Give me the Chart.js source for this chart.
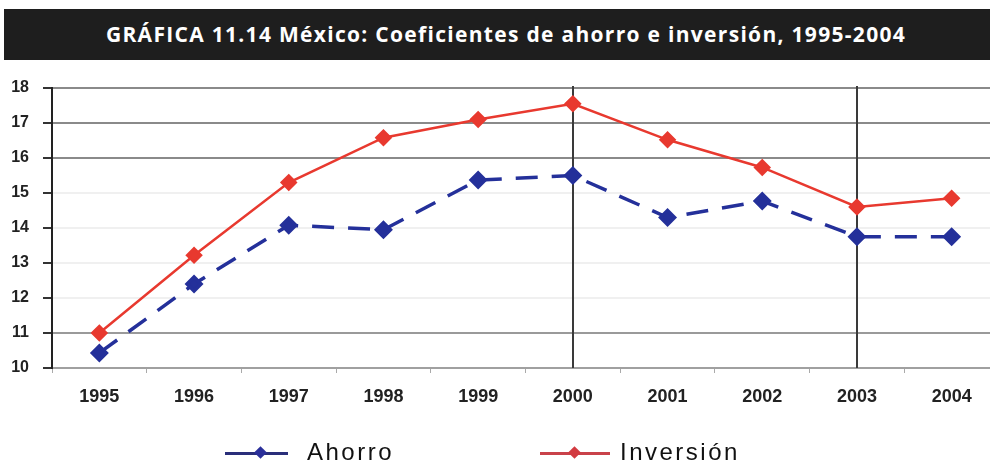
<!DOCTYPE html>
<html>
<head>
<meta charset="utf-8">
<script src="https://cdn.jsdelivr.net/npm/chart.js@4.4.1/dist/chart.umd.min.js"></script>
<style>
  html, body { margin: 0; padding: 0; width: 990px; height: 464px; overflow: hidden; background: #fff; }
  #title { position: absolute; left: 4px; top: 9px; width: 986px; height: 51px; background: #1e1e1e;
           color: #fff; font-family: "Open Sans", sans-serif; font-weight: 700; font-size: 21px;
           letter-spacing: 1.3px; line-height: 51px; text-align: center; box-sizing: border-box; padding-left: 18px; white-space: nowrap; }
  #wrap { position: absolute; left: 0; top: 0; width: 1000px; height: 464px; }
  #c { width: 1000px; height: 464px; display: block; }
  .leg { position: absolute; top: 440px; height: 24px; font-family: "Liberation Sans", Arial, sans-serif;
         font-size: 24px; letter-spacing: 2.5px; color: #111; line-height: 24px; }
  .ln { position: absolute; height: 3px; top: 452px; }
  .dm { position: absolute; width: 9px; height: 9px; transform: rotate(45deg); top: 448px; }
</style>
</head>
<body>
<div id="wrap"><canvas id="c" width="1000" height="464"></canvas></div>
<div id="title">GRÁFICA 11.14 México: Coeficientes de ahorro e inversión, 1995-2004</div>
<div class="ln" style="left:225px;width:63px;background:#2a2f7a"></div>
<div class="dm" style="left:256px;background:#2a2f9a"></div>
<div class="leg" style="left:307px">Ahorro</div>
<div class="ln" style="left:540px;width:70px;background:#c9424a"></div>
<div class="dm" style="left:570px;background:#d23a40"></div>
<div class="leg" style="left:620px">Inversión</div>
<script>
const years = ['1995','1996','1997','1998','1999','2000','2001','2002','2003','2004'];
const ahorro = [10.43, 12.4, 14.08, 13.95, 15.37, 15.5, 14.3, 14.77, 13.75, 13.75];
const inversion = [11.0, 13.22, 15.3, 16.58, 17.1, 17.55, 16.52, 15.73, 14.6, 14.85];
const yTicks = [10, 11, 12, 13, 14, 15, 16, 17, 18];
const markedYears = ['2000', '2003'];
const gridColors = {10:'rgba(0,0,0,0)', 11:'#9a9a9a', 12:'#f0f0f0', 13:'#f0f0f0', 14:'#f0f0f0', 15:'#f0f0f0', 16:'#8a8a8a', 17:'#8a8a8a', 18:'#8a8a8a'};

const vLines = {
  id: 'vLines',
  beforeDatasetsDraw(chart) {
    const {ctx, chartArea, scales} = chart;
    ctx.save();
    ctx.strokeStyle = '#3a3a3a';
    ctx.lineWidth = 2;
    markedYears.forEach(y => {
      const x = Math.round(scales.x.getPixelForValue(years.indexOf(y)));
      ctx.beginPath();
      ctx.moveTo(x, chartArea.top - 2);
      ctx.lineTo(x, chartArea.bottom);
      ctx.stroke();
    });
    ctx.restore();
  }
};

new Chart(document.getElementById('c'), {
  type: 'line',
  data: {
    labels: years,
    datasets: [
      { label: 'Inversión', data: inversion, borderColor: '#e8392f', backgroundColor: '#e8392f',
        borderWidth: 2.5, pointStyle: 'rectRot', pointRadius: 7, pointHoverRadius: 7, tension: 0 },
      { label: 'Ahorro', data: ahorro, borderColor: '#24309a', backgroundColor: '#24309a',
        borderWidth: 3.5, borderDash: [22, 14], pointStyle: 'rectRot', pointRadius: 7, pointHoverRadius: 7, tension: 0 }
    ]
  },
  options: {
    responsive: false,
    animation: false,
    layout: { autoPadding: false, padding: { top: 88, left: 0, right: 1, bottom: 0 } },
    plugins: { legend: { display: false }, tooltip: { enabled: false } },
    scales: {
      x: {
        offset: true,
        grid: { offset: true, drawOnChartArea: false, drawTicks: true, tickLength: 5, color: '#aaaaaa', lineWidth: 1 },
        border: { color: '#a0a0a0', width: 2 },
        ticks: { color: '#222', font: { family: 'Liberation Sans', weight: 'bold', size: 18 }, padding: 13 },
        afterFit(s) { s.height = 96; s.paddingLeft = 0; s.paddingRight = 0; }
      },
      y: {
        min: 10, max: 18,
        afterBuildTicks(s) { s.ticks = yTicks.map(v => ({ value: v })); },
        grid: { color: c => gridColors[c.tick.value] || '#ccc', lineWidth: 2, tickLength: 9, drawTicks: true,
                tickColor: '#333' },
        border: { color: '#222', width: 2 },
        ticks: { color: '#222', font: { family: 'Liberation Sans', weight: 'bold', size: 16 }, padding: 14 },
        afterFit(s) { s.width = 52; s.paddingTop = 0; s.paddingBottom = 0; }
      }
    }
  },
  plugins: [vLines]
});
</script>
</body>
</html>
